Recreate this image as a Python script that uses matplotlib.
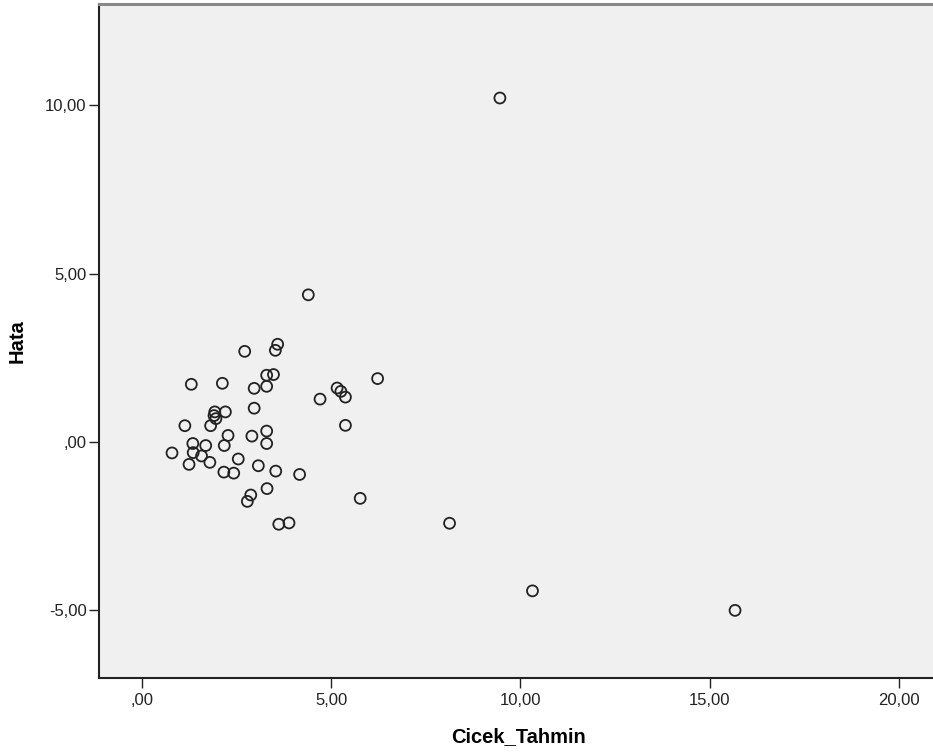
import matplotlib
matplotlib.use("Agg")
import matplotlib.pyplot as plt
from matplotlib.ticker import FuncFormatter

plt.rcParams['font.family'] = ['Liberation Sans', 'DejaVu Sans']

# values
cicek_tahmin = [9.46, 4.40, 2.72, 3.59, 3.53, 1.31, 2.13, 2.97, 3.30, 3.30, 3.48,
                6.23, 5.16, 5.26, 5.38, 4.71, 2.97, 2.21, 1.93, 1.91, 1.96,
                1.14, 1.82, 5.38, 2.28, 2.91, 3.30, 3.30, 1.35, 1.69, 2.18,
                0.80, 1.36, 1.58, 1.25, 1.80, 2.55, 3.08, 3.54, 4.17, 2.17,
                2.43, 3.31, 5.77, 2.88, 2.79, 3.62, 3.89, 8.13, 10.32, 15.67]
hata = [10.22, 4.37, 2.69, 2.90, 2.72, 1.71, 1.74, 1.59, 1.65, 1.98, 2.00,
        1.88, 1.60, 1.50, 1.33, 1.27, 1.00, 0.89, 0.89, 0.78, 0.69,
        0.48, 0.48, 0.49, 0.19, 0.17, 0.32, -0.05, -0.05, -0.11, -0.11,
        -0.33, -0.32, -0.42, -0.67, -0.61, -0.51, -0.71, -0.87, -0.97, -0.90,
        -0.93, -1.39, -1.68, -1.58, -1.77, -2.45, -2.41, -2.42, -4.43, -5.01]

x_ticks = [0, 5, 10, 15, 20]
y_ticks = [-5, 0, 5, 10]


def comma_fmt(v, pos):
    s = f"{v:.2f}".replace(".", ",")
    if s.startswith("0,"):
        s = s[1:]
    return s


fig = plt.figure(figsize=(9.33, 7.55), dpi=100)
ax = fig.add_axes([99 / 933, 1 - 678 / 755, (938 - 99) / 933, (678 - 4.5) / 755])
ax.set_facecolor('#f0f0f0')

ax.scatter(cicek_tahmin, hata, s=62, facecolors='none', edgecolors='#222222',
           linewidths=1.3, zorder=3)

ax.set_xlim(-1.128, 21.03)
ax.set_ylim(-7.02, 13.0)
ax.set_xticks(x_ticks)
ax.set_yticks(y_ticks)
ax.xaxis.set_major_formatter(FuncFormatter(comma_fmt))
ax.yaxis.set_major_formatter(FuncFormatter(comma_fmt))
ax.tick_params(axis='both', direction='out', length=7.5, width=1.0,
               color='#222222', labelsize=12, labelcolor='#222222')
ax.tick_params(axis='y', pad=1.5)
ax.tick_params(axis='x', pad=3)

for side in ['left', 'bottom']:
    ax.spines[side].set_color('#222222')
    ax.spines[side].set_linewidth(1.5)
ax.spines['top'].set_color('#888888')
ax.spines['top'].set_linewidth(2.2)
ax.spines['right'].set_color('#888888')

ax.set_xlabel('Cicek_Tahmin', fontsize=14.5, fontweight='bold', labelpad=14)
ax.set_ylabel('Hata', fontsize=14.5, fontweight='bold', labelpad=13)

fig.savefig('out.png', dpi=100)
